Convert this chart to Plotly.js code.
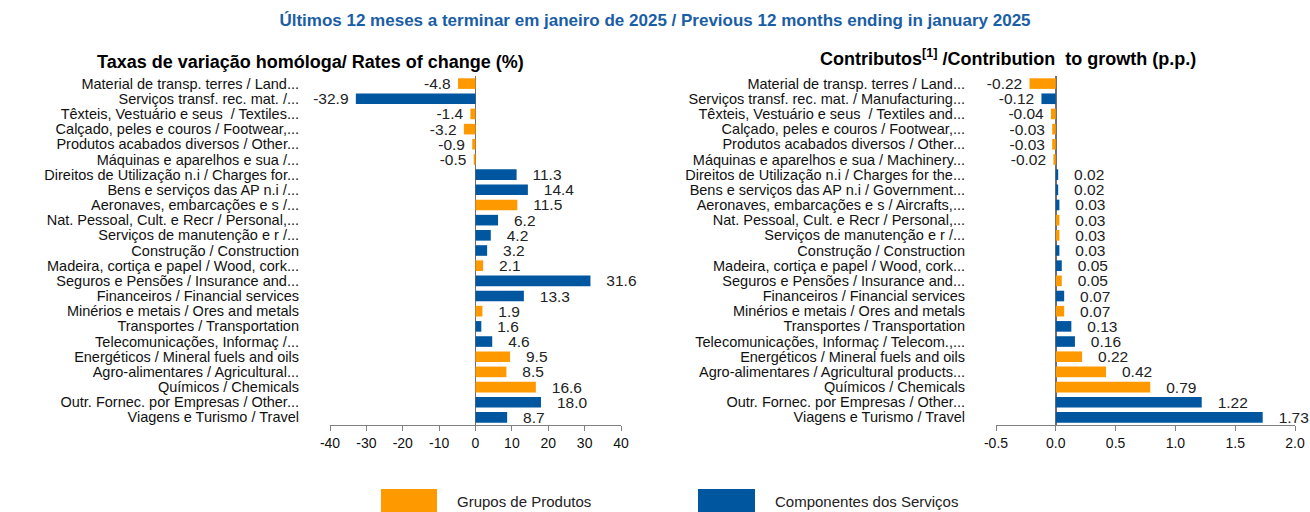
<!DOCTYPE html>
<html>
<head>
<meta charset="utf-8">
<script src="https://cdn.plot.ly/plotly-3.0.1.min.js"></script>
<style>
  body { margin: 0; background: #fff; }
  #chart { width: 1310px; height: 512px; }
</style>
</head>
<body>
<div id="chart"></div>
<script>
  // categories, top to bottom
  var labelsLeft = [
      "Material de transp. terres / Land...",
      "Serviços transf. rec. mat. /...",
      "Têxteis, Vestuário e seus  / Textiles...",
      "Calçado, peles e couros / Footwear,...",
      "Produtos acabados diversos / Other...",
      "Máquinas e aparelhos e sua /...",
      "Direitos de Utilização n.i / Charges for...",
      "Bens e serviços das AP n.i /...",
      "Aeronaves, embarcações e s /...",
      "Nat. Pessoal, Cult. e Recr / Personal,...",
      "Serviços de manutenção e r /...",
      "Construção / Construction",
      "Madeira, cortiça e papel / Wood, cork...",
      "Seguros e Pensões / Insurance and...",
      "Financeiros / Financial services",
      "Minérios e metais / Ores and metals",
      "Transportes / Transportation",
      "Telecomunicações, Informaç /...",
      "Energéticos / Mineral fuels and oils",
      "Agro-alimentares / Agricultural...",
      "Químicos / Chemicals",
      "Outr. Fornec. por Empresas / Other...",
      "Viagens e Turismo / Travel"
  ];
  var labelsRight = [
      "Material de transp. terres / Land...",
      "Serviços transf. rec. mat. / Manufacturing...",
      "Têxteis, Vestuário e seus  / Textiles and...",
      "Calçado, peles e couros / Footwear,...",
      "Produtos acabados diversos / Other...",
      "Máquinas e aparelhos e sua / Machinery...",
      "Direitos de Utilização n.i / Charges for the...",
      "Bens e serviços das AP n.i / Government...",
      "Aeronaves, embarcações e s / Aircrafts,...",
      "Nat. Pessoal, Cult. e Recr / Personal,...",
      "Serviços de manutenção e r /...",
      "Construção / Construction",
      "Madeira, cortiça e papel / Wood, cork...",
      "Seguros e Pensões / Insurance and...",
      "Financeiros / Financial services",
      "Minérios e metais / Ores and metals",
      "Transportes / Transportation",
      "Telecomunicações, Informaç / Telecom.,...",
      "Energéticos / Mineral fuels and oils",
      "Agro-alimentares / Agricultural products...",
      "Químicos / Chemicals",
      "Outr. Fornec. por Empresas / Other...",
      "Viagens e Turismo / Travel"
  ];
  var rates = [-4.8, -32.9, -1.4, -3.2, -0.9, -0.5, 11.3, 14.4, 11.5, 6.2, 4.2, 3.2,
               2.1, 31.6, 13.3, 1.9, 1.6, 4.6, 9.5, 8.5, 16.6, 18.0, 8.7];
  var contribs = [-0.22, -0.12, -0.04, -0.03, -0.03, -0.02, 0.02, 0.02, 0.03, 0.03, 0.03, 0.03,
                  0.05, 0.05, 0.07, 0.07, 0.13, 0.16, 0.22, 0.42, 0.79, 1.22, 1.73];
  // P = Grupos de Produtos, S = Componentes dos Serviços
  var groupsLeft = ["P", "S", "P", "P", "P", "P", "S", "S", "P", "S", "S", "S",
                    "P", "S", "S", "P", "S", "S", "P", "P", "P", "S", "S"];
  var groupsRight = ["P", "S", "P", "P", "P", "P", "S", "S", "S", "P", "P", "S",
                     "S", "P", "S", "P", "S", "S", "P", "P", "P", "S", "S"];
  var legendNames = ["Grupos de Produtos", "Componentes dos Serviços"];

  var tickValsLeft = [-40, -30, -20, -10, 0, 10, 20, 30, 40];
  var tickTextLeft = ["-40", "-30", "-20", "-10", "0", "10", "20", "30", "40"];
  var tickValsRight = [-0.5, 0, 0.5, 1, 1.5, 2];
  var tickTextRight = ["-0.5", "0.0", "0.5", "1.0", "1.5", "2.0"];

  var orange = "#FF9900";
  var blue = "#00579F";
  var nb = "\u00a0";

  function colorsFor(groups) {
      return groups.map(function (g) { return g == "P" ? orange : blue; });
  }
  function textsFor(vals, dec) {
      return vals.map(function (v) {
          return v < 0 ? v.toFixed(dec) + nb : nb + nb + nb + v.toFixed(dec);
      });
  }
  function keepSpaces(list) {
      return list.map(function (s) { return s.replace(/  /g, " " + nb); });
  }

  var font = "Liberation Sans, Arial, sans-serif";

  var traceLeft = {
      type: "bar",
      orientation: "h",
      x: rates,
      y: labelsLeft,
      marker: { color: colorsFor(groupsLeft) },
      text: textsFor(rates, 1),
      textposition: "outside",
      constraintext: "none",
      cliponaxis: false,
      textfont: { family: font, size: 15.5, color: "#222" },
      xaxis: "x",
      yaxis: "y",
      hoverinfo: "x+y"
  };
  var traceRight = {
      type: "bar",
      orientation: "h",
      x: contribs,
      y: labelsRight,
      marker: { color: colorsFor(groupsRight) },
      text: textsFor(contribs, 2),
      textposition: "outside",
      constraintext: "none",
      cliponaxis: false,
      textfont: { family: font, size: 15.5, color: "#222" },
      xaxis: "x2",
      yaxis: "y2",
      hoverinfo: "x+y"
  };

  var yDomain = [1 - 425 / 512, 1 - 76 / 512];

  var xCommon = {
      showgrid: false,
      zeroline: true,
      zerolinecolor: "#6e6e6e",
      zerolinewidth: 1.5,
      showline: true,
      linecolor: "#808080",
      linewidth: 1,
      ticks: "outside",
      ticklen: 5,
      tickcolor: "#808080",
      tickmode: "array",
      tickfont: { family: font, size: 14, color: "#111" },
      fixedrange: true
  };
  var yCommon = {
      showgrid: false,
      zeroline: false,
      showline: false,
      ticks: "",
      autorange: "reversed",
      automargin: false,
      tickmode: "array",
      ticklabelstandoff: 30,
      tickfont: { family: font, size: 14.5, color: "#111" },
      domain: yDomain,
      fixedrange: true
  };

  var layout = {
      width: 1310,
      height: 512,
      margin: { l: 0, r: 0, t: 0, b: 0 },
      paper_bgcolor: "#fff",
      plot_bgcolor: "#fff",
      showlegend: false,
      bargap: 0.3,
      title: {
          text: "<b>Últimos 12 meses a terminar em janeiro de 2025 / Previous 12 months ending in january 2025</b>",
          font: { family: font, size: 17, color: "#1A5EA6" },
          x: 0.5,
          xanchor: "center",
          y: 1 - 20 / 512,
          yanchor: "middle",
          yref: "paper"
      },
      xaxis: Object.assign({}, xCommon, {
          domain: [330 / 1310, 621 / 1310],
          range: [-40, 40],
          tickvals: tickValsLeft,
          ticktext: tickTextLeft,
          anchor: "y"
      }),
      yaxis: Object.assign({}, yCommon, {
          anchor: "x",
          tickvals: labelsLeft,
          ticktext: keepSpaces(labelsLeft)
      }),
      xaxis2: Object.assign({}, xCommon, {
          domain: [996 / 1310, 1295 / 1310],
          range: [-0.5, 2],
          tickvals: tickValsRight,
          ticktext: tickTextRight,
          anchor: "y2"
      }),
      yaxis2: Object.assign({}, yCommon, {
          anchor: "x2",
          tickvals: labelsRight,
          ticktext: keepSpaces(labelsRight)
      }),
      annotations: [
          {
              text: "<b>Taxas de variação homóloga/ Rates of change (%)</b>",
              xref: "paper", yref: "paper",
              x: 310 / 1310, y: 1 - 62 / 512,
              xanchor: "center", yanchor: "middle",
              showarrow: false,
              font: { family: font, size: 18, color: "#000" }
          },
          {
              text: "<b>Contributos<sup>[1]</sup> /Contribution" + nb + " to growth (p.p.)</b>",
              xref: "paper", yref: "paper",
              x: 1008 / 1310, y: 1 - 57 / 512,
              xanchor: "center", yanchor: "middle",
              showarrow: false,
              font: { family: font, size: 18, color: "#000" }
          },
          {
              text: legendNames[0],
              xref: "paper", yref: "paper",
              x: 455 / 1310, y: 1 - 501 / 512,
              xanchor: "left", yanchor: "middle",
              showarrow: false,
              font: { family: font, size: 15, color: "#222" }
          },
          {
              text: legendNames[1],
              xref: "paper", yref: "paper",
              x: 773 / 1310, y: 1 - 501 / 512,
              xanchor: "left", yanchor: "middle",
              showarrow: false,
              font: { family: font, size: 15, color: "#222" }
          }
      ],
      shapes: [
          {
              type: "rect", xref: "paper", yref: "paper",
              x0: 381 / 1310, x1: 437 / 1310, y0: -0.01, y1: 1 - 489 / 512,
              fillcolor: orange, line: { width: 0 }
          },
          {
              type: "rect", xref: "paper", yref: "paper",
              x0: 698 / 1310, x1: 755 / 1310, y0: -0.01, y1: 1 - 489 / 512,
              fillcolor: blue, line: { width: 0 }
          }
      ]
  };

  Plotly.newPlot("chart", [traceLeft, traceRight], layout, { displayModeBar: false, staticPlot: true });
</script>
</body>
</html>
